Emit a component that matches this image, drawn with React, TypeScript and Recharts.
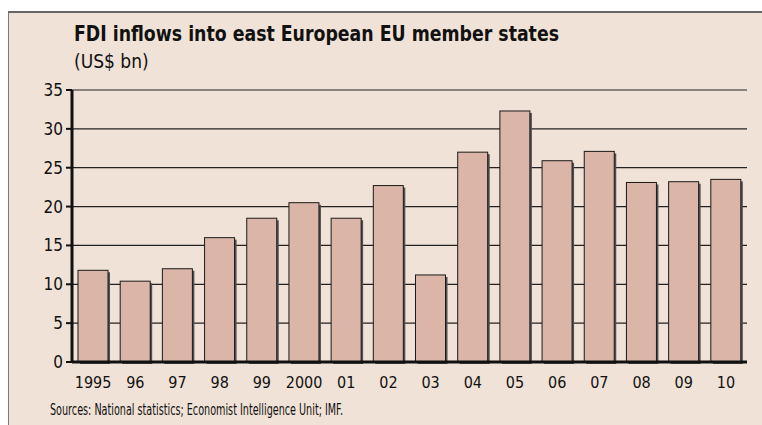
import React from 'react';
import { BarChart, Bar, XAxis, YAxis, CartesianGrid } from 'recharts';

const years = ['1995', '96', '97', '98', '99', '2000', '01', '02', '03', '04', '05', '06', '07', '08', '09', '10'];
const fdi = [11.8, 10.4, 12.0, 16.0, 18.5, 20.5, 18.5, 22.7, 11.2, 27.0, 32.3, 25.9, 27.1, 23.1, 23.2, 23.5];
const yTicks = [0, 5, 10, 15, 20, 25, 30, 35];

const title = 'FDI inflows into east European EU member states';
const subtitle = '(US$ bn)';
const source = 'Sources: National statistics; Economist Intelligence Unit; IMF.';

const data = years.map((y, i) => ({ year: y, value: fdi[i] }));

const FONT = '"Liberation Sans Narrow", "DejaVu Sans Condensed", "Roboto", sans-serif';
const BG = '#f0e2d6';

const ShadowBar = (props: any) => {
  const { x, y, width, height } = props;
  if (height <= 0) return null;
  return (
    <g>
      <rect x={x + 2} y={y + 2} width={width} height={height} fill="#505050" />
      <rect x={x} y={y} width={width} height={height} fill="#dbb6a8" stroke="#1a1a1a" strokeWidth={1} />
    </g>
  );
};

export default function App() {
  return (
    <div style={{ position: 'fixed', left: 0, top: 0, right: 0, bottom: 0, overflow: 'hidden', background: '#fff' }}>
      <div
        style={{
          position: 'absolute',
          left: 8,
          top: 11,
          right: -4,
          bottom: -4,
          background: BG,
          borderLeft: '1px solid #7a7a7a',
          borderTop: '2px solid #666',
        }}
      />
      <div style={{ position: 'absolute', left: 8, top: 8, width: 754, height: 417 }}>
        <BarChart
          width={754}
          height={417}
          data={data}
          margin={{ top: 82, right: 15, bottom: 0, left: 0 }}
          barSize={30}
        >
          <CartesianGrid horizontal vertical={false} stroke="#222" strokeWidth={1.2} />
          <YAxis
            domain={[0, 35]}
            ticks={yTicks}
            width={64}
            interval={0}
            axisLine={{ stroke: '#111', strokeWidth: 3 }}
            tickLine={{ stroke: '#111', strokeWidth: 2 }}
            tickSize={6}
            tickMargin={3}
            tick={{ fill: '#111', fontSize: 17, fontFamily: FONT }}
          />
          <XAxis
            dataKey="year"
            height={63}
            interval={0}
            axisLine={{ stroke: '#111', strokeWidth: 3 }}
            tickLine={false}
            tickSize={0}
            tickMargin={15}
            tick={{ fill: '#111', fontSize: 16, fontFamily: FONT }}
          />
          <Bar dataKey="value" shape={<ShadowBar />} isAnimationActive={false} />
        </BarChart>
        <svg width={754} height={417} style={{ position: 'absolute', left: 0, top: 0, pointerEvents: 'none' }}>
          <text x={66} y={33} fontFamily={FONT} fontWeight="bold" fontSize={21} fill="#111" textLength={485} lengthAdjust="spacingAndGlyphs">
            {title}
          </text>
          <text x={66} y={60} fontFamily={FONT} fontSize={19} fill="#111">
            {subtitle}
          </text>
          <text x={42} y={407} fontFamily={FONT} fontSize={15} fill="#111" textLength={293} lengthAdjust="spacingAndGlyphs">
            {source}
          </text>
        </svg>
      </div>
    </div>
  );
}
